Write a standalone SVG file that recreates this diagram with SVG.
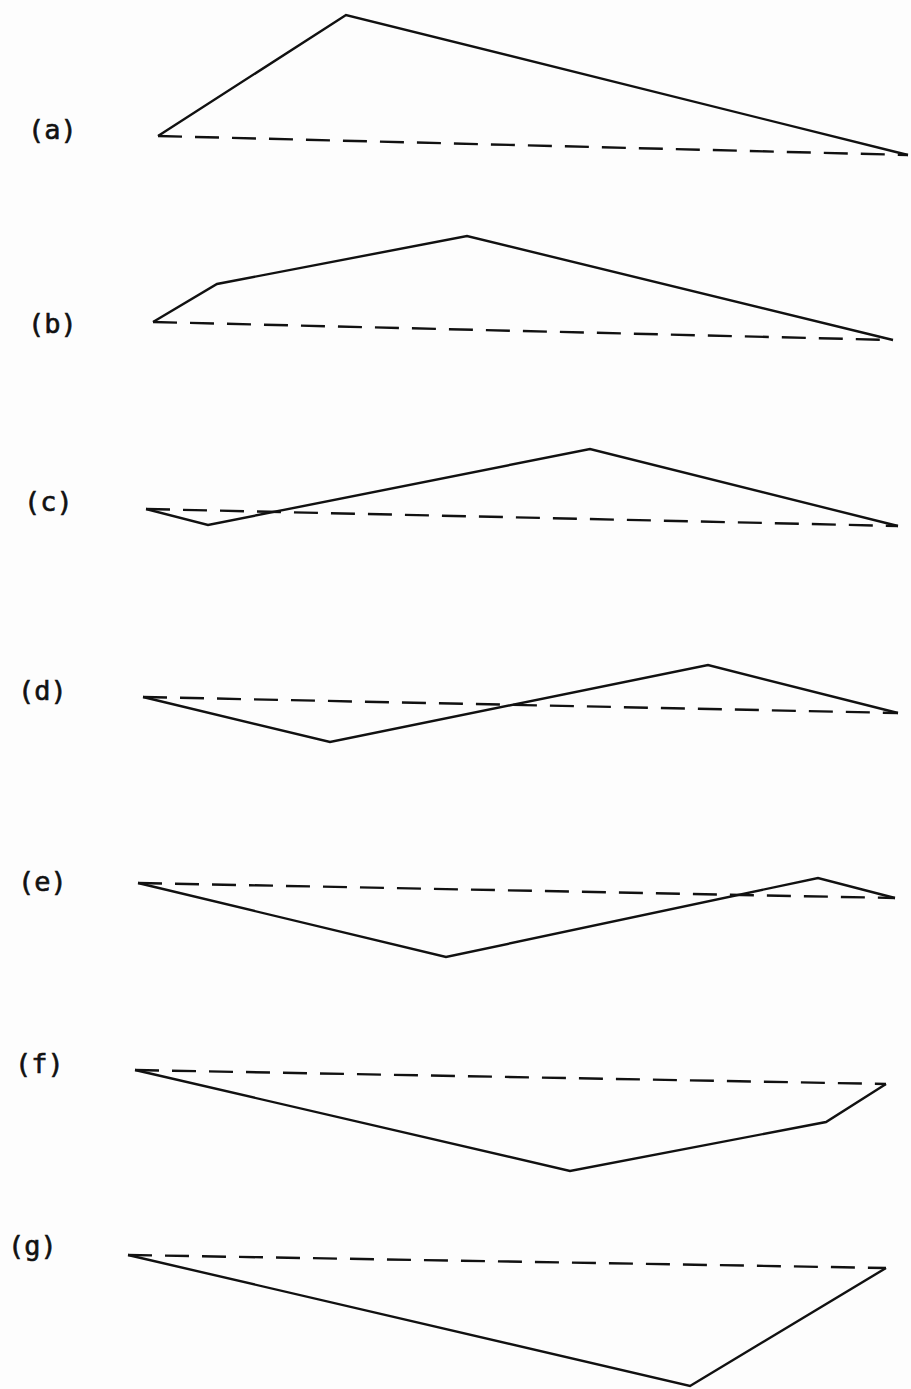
<svg xmlns="http://www.w3.org/2000/svg" width="911" height="1389" viewBox="0 0 911 1389">
<style>
.s{fill:none;stroke:#111;stroke-width:2.4;stroke-linejoin:miter}
.d{fill:none;stroke:#111;stroke-width:2.4;stroke-dasharray:24 13}
.l{font-family:"DejaVu Sans Mono","Liberation Mono",monospace;font-size:27px;fill:#111;stroke:#111;stroke-width:0.6}
</style>
<rect width="911" height="1389" fill="#fdfdfd"/>
<g id="a">
<text class="l" x="28" y="139">(a)</text>
<polyline class="s" points="158,136 346,15 908,155"/>
<line class="d" x1="158" y1="136" x2="908" y2="155"/>
</g>
<g id="b">
<text class="l" x="28" y="333">(b)</text>
<polyline class="s" points="153,322 217,284 467,236 893,340"/>
<line class="d" x1="153" y1="322" x2="893" y2="340"/>
</g>
<g id="c">
<text class="l" x="24" y="511">(c)</text>
<polyline class="s" points="146,509 208,525 590,449 898,526"/>
<line class="d" x1="146" y1="509" x2="898" y2="526"/>
</g>
<g id="d">
<text class="l" x="18" y="700">(d)</text>
<polyline class="s" points="143,697 330,742 708,665 898,713"/>
<line class="d" x1="143" y1="697" x2="898" y2="713"/>
</g>
<g id="e">
<text class="l" x="18" y="891">(e)</text>
<polyline class="s" points="138,883 446,957 818,878 895,898"/>
<line class="d" x1="138" y1="883" x2="895" y2="898"/>
</g>
<g id="f">
<text class="l" x="15" y="1073">(f)</text>
<polyline class="s" points="135,1070 570,1171 826,1122 886,1084"/>
<line class="d" x1="135" y1="1070" x2="886" y2="1084"/>
</g>
<g id="g">
<text class="l" x="8" y="1255">(g)</text>
<polyline class="s" points="128,1255 690,1386 886,1268"/>
<line class="d" x1="128" y1="1255" x2="886" y2="1268"/>
</g>
</svg>
